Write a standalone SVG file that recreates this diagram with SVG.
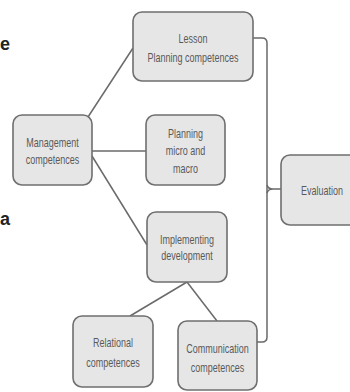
<svg xmlns="http://www.w3.org/2000/svg" width="350" height="392" viewBox="0 0 350 392">
<style>
.box{fill:#e6e6e6;stroke:#6f6f6f;stroke-width:1.6}
.t{font-family:"Liberation Sans",Arial,sans-serif;font-size:12.5px;fill:#5a5a5a;text-anchor:middle}
.c{fill:none;stroke:#6a6a6a;stroke-width:1.5}
.frag{font-family:"Liberation Sans",Arial,sans-serif;font-size:18px;font-weight:bold;fill:#222}
</style>
<rect width="350" height="392" fill="#fff"/>
<text class="frag" x="0" y="50">e</text>
<text class="frag" x="0" y="225">a</text>
<g id="connectors">
<path class="c" d="M88,117 L133,48"/>
<path class="c" d="M92,151 L146,151"/>
<path class="c" d="M92,156 L147,245"/>
<path class="c" d="M187,282 L130,316"/>
<path class="c" d="M187,282 L217,321"/>
<path class="c" d="M253,38 H262 Q267,38 267,43 V337 Q267,342 262,342 H257"/>
<path class="c" d="M267,185 Q268,189 273,189 Q268,189 267,193 M273,189 H281"/>
</g>
<g id="lesson">
<rect class="box" x="133" y="12" width="120" height="69" rx="9"/>
<text class="t" transform="translate(193,42.5) scale(0.72,1)">Lesson</text>
<text class="t" transform="translate(193,61.5) scale(0.72,1)">Planning competences</text>
</g>
<g id="management">
<rect class="box" x="13" y="115" width="79" height="70" rx="9"/>
<text class="t" transform="translate(52.5,146.5) scale(0.72,1)">Management</text>
<text class="t" transform="translate(52.5,163.5) scale(0.72,1)">competences</text>
</g>
<g id="planning">
<rect class="box" x="146" y="115" width="79" height="70" rx="9"/>
<text class="t" transform="translate(185.5,137.5) scale(0.72,1)">Planning</text>
<text class="t" transform="translate(185.5,154.5) scale(0.72,1)">micro and</text>
<text class="t" transform="translate(185.5,172.5) scale(0.72,1)">macro</text>
</g>
<g id="implementing">
<rect class="box" x="147" y="212" width="80" height="70" rx="9"/>
<text class="t" transform="translate(187,243.5) scale(0.72,1)">Implementing</text>
<text class="t" transform="translate(187,259.5) scale(0.72,1)">development</text>
</g>
<g id="relational">
<rect class="box" x="73" y="316" width="80" height="71" rx="9"/>
<text class="t" transform="translate(113,346.5) scale(0.72,1)">Relational</text>
<text class="t" transform="translate(113,366.5) scale(0.72,1)">competences</text>
</g>
<g id="communication">
<rect class="box" x="178" y="321" width="79" height="69" rx="9"/>
<text class="t" transform="translate(217.5,352.5) scale(0.72,1)">Communication</text>
<text class="t" transform="translate(217.5,371.5) scale(0.72,1)">competences</text>
</g>
<g id="evaluation">
<rect class="box" x="281" y="155" width="84" height="70" rx="9"/>
<text class="t" transform="translate(322,194.5) scale(0.72,1)">Evaluation</text>
</g>
</svg>
